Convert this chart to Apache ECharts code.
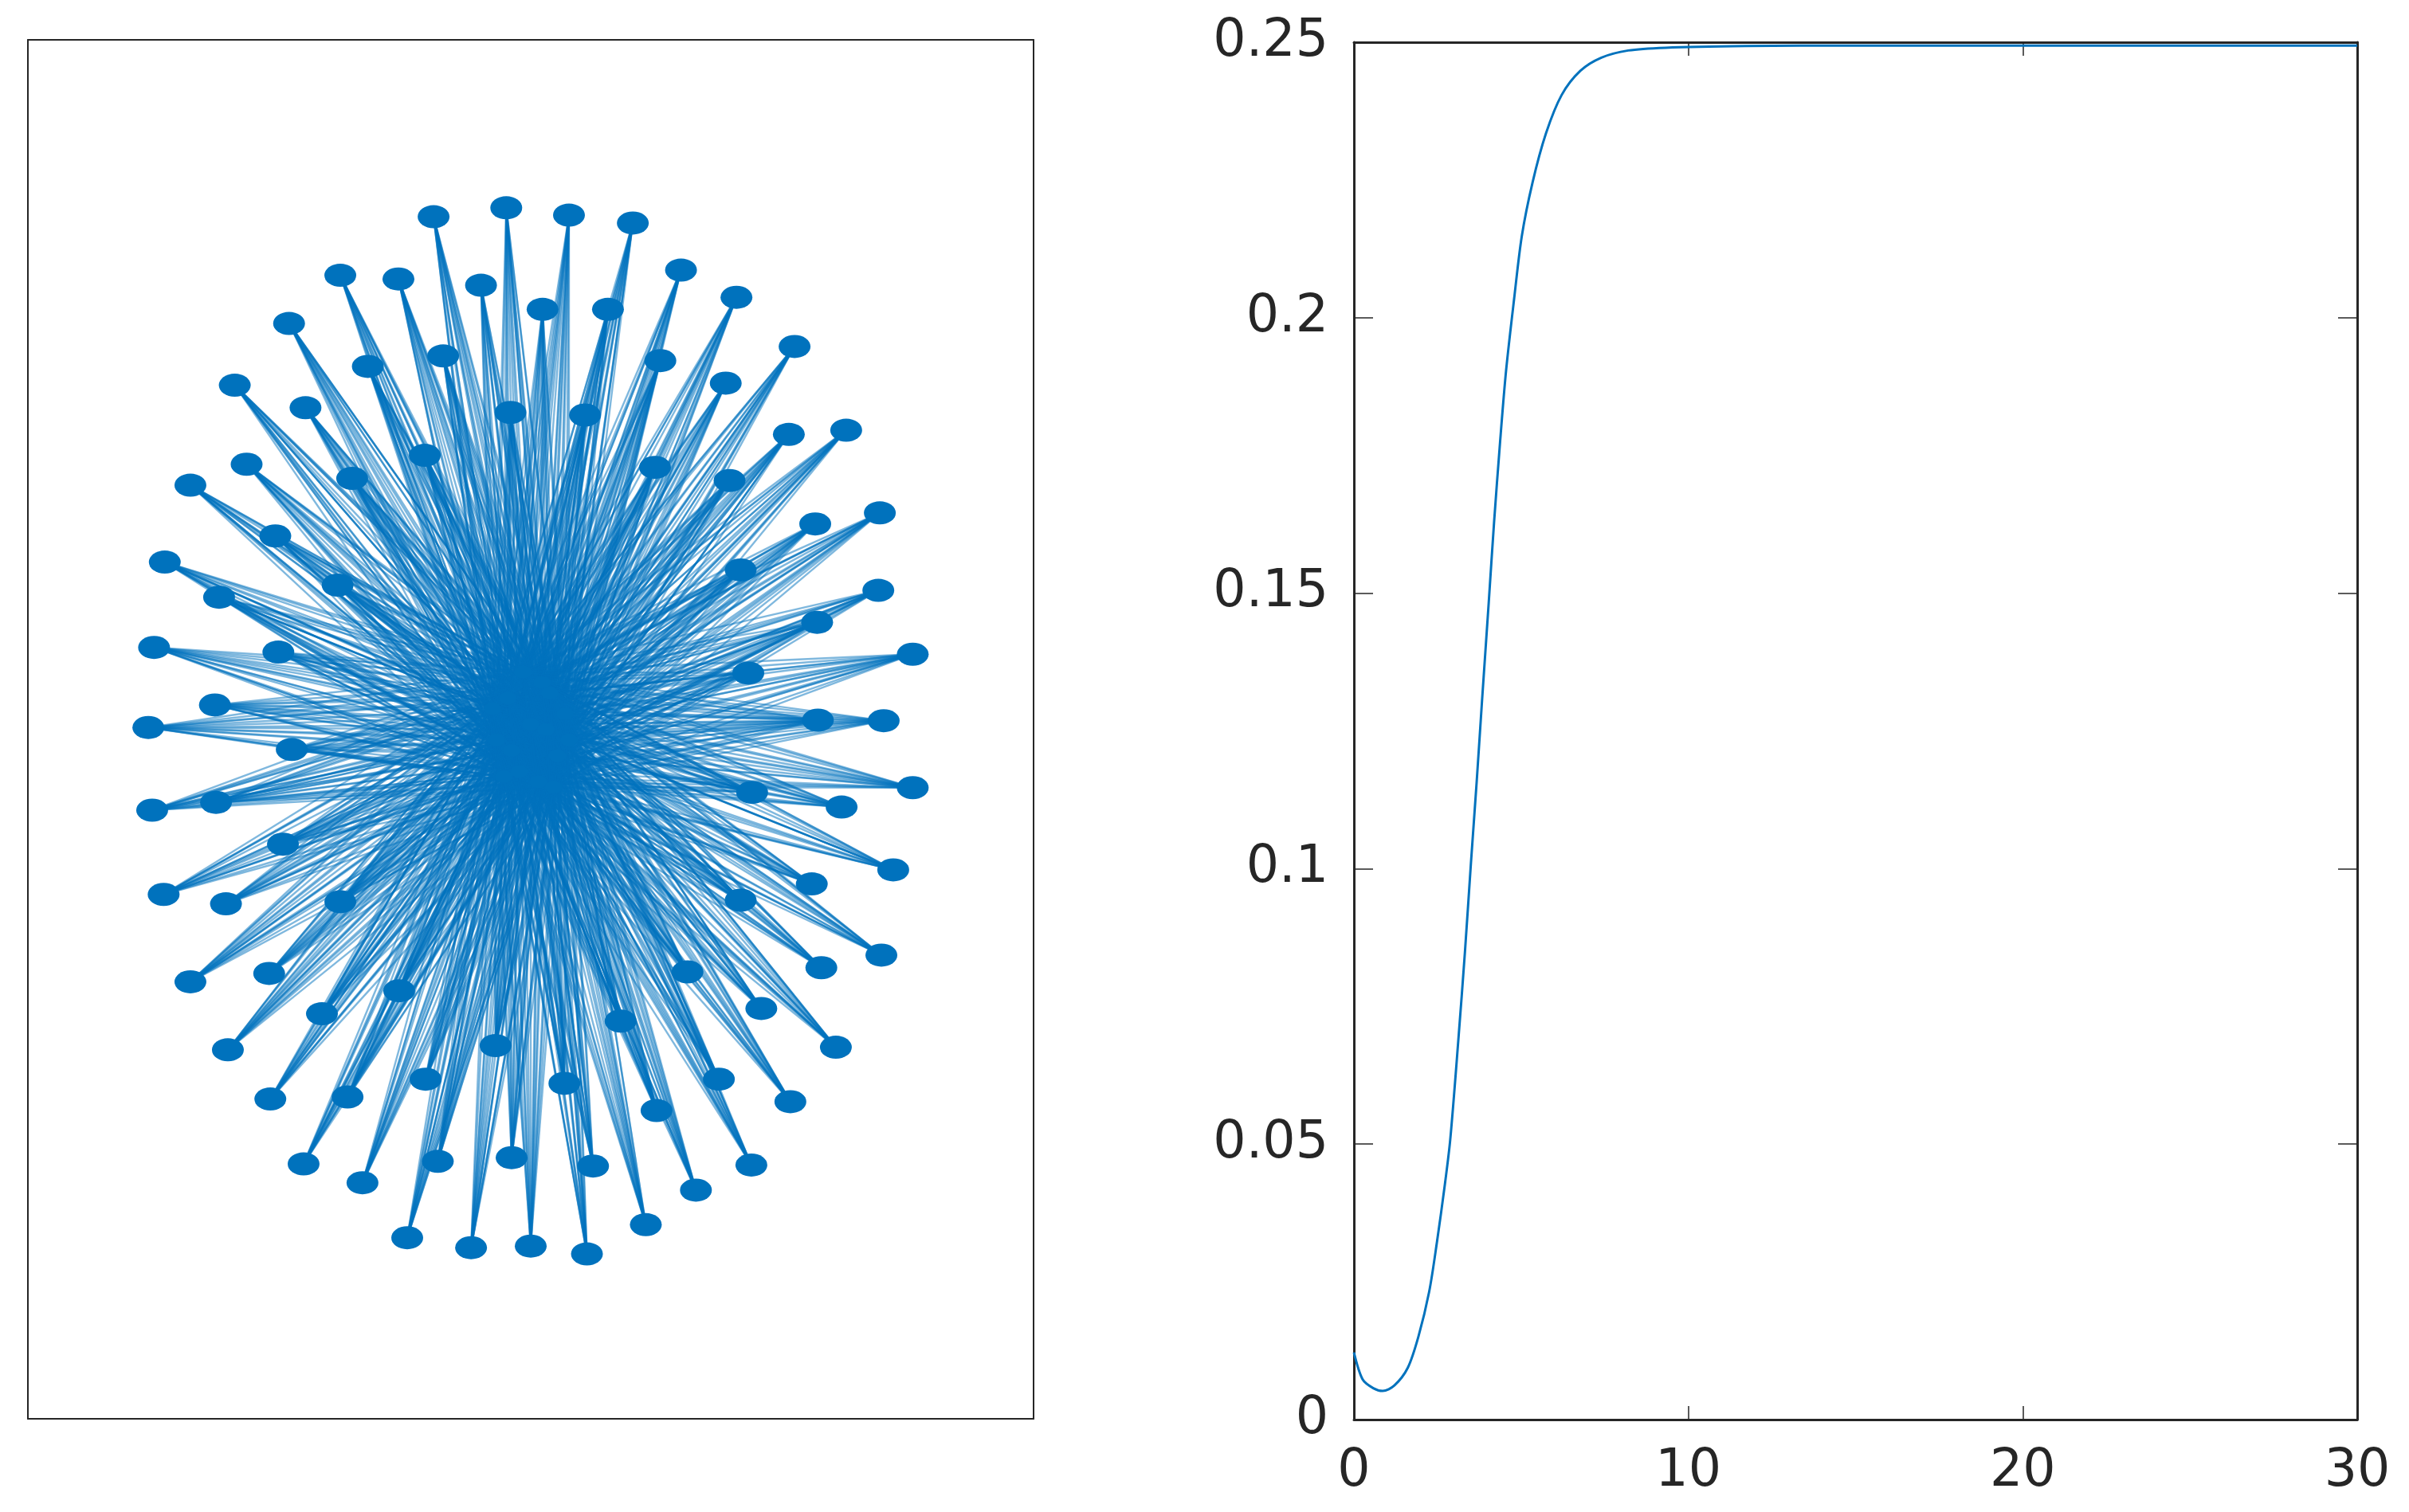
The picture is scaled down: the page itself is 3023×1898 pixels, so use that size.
<!DOCTYPE html>
<html>
<head>
<meta charset="utf-8">
<script src="https://cdn.jsdelivr.net/npm/echarts@6/dist/echarts.min.js"></script>
<style>
html,body{margin:0;padding:0;background:#fff;}
#chart{width:3023px;height:1898px;}
</style>
</head>
<body>
<div id="chart"></div>
<script>
// ---- Left panel: graph layout coordinates ----
var nodeX = [
 -0.254, -0.064, -0.498, -0.346, -0.130, 0.031, -0.632, -0.426, -0.229, -0.774,
 -0.589, -0.053, -0.277, -0.743, -0.890, -0.467, -0.668, -0.957, -0.505, -0.815,
 -0.985, -0.660, -0.826, -1.000,
 -0.625, -0.990, -0.823, -0.648, -0.960, -0.797, -0.498, -0.890, -0.684, -0.546,
 -0.344, -0.792, -0.092, -0.681, -0.479, -0.275, -0.594, -0.440, -0.243, -0.050,
 -0.323, -0.156, 0.000,
 0.100, 0.267, 0.393, 0.538, 0.202, 0.690, 0.339, 0.510, 0.142, 0.825,
 0.675, 0.325, 0.520, 0.913, 0.744, 0.549, 0.909, 0.749, 0.999, 0.569,
 0.751, 0.923,
 0.999, 0.579, 0.813, 0.948, 0.735, 0.549, 0.917, 0.760, 0.410, 0.603,
 0.798, 0.235, 0.492, 0.679, 0.088, 0.329, 0.577, 0.163, 0.432, 0.301, 0.147
];
var nodeY = [
 0.980, 0.997, 0.868, 0.861, 0.849, 0.803, 0.776, 0.694, 0.714, 0.658,
 0.615, 0.606, 0.524, 0.507, 0.467, 0.480, 0.370, 0.320, 0.276, 0.253,
 0.157, 0.148, 0.047, 0.004,
 -0.038, -0.154, -0.139, -0.219, -0.315, -0.333, -0.329, -0.482, -0.466, -0.543,
 -0.499, -0.612, -0.604, -0.706, -0.702, -0.668, -0.830, -0.866, -0.825, -0.818,
 -0.971, -0.990, -0.987,
 0.983, 0.968, 0.878, 0.826, 0.803, 0.732, 0.705, 0.662, 0.601, 0.572,
 0.564, 0.501, 0.476, 0.414, 0.393, 0.305, 0.266, 0.205, 0.144, 0.108,
 0.018, 0.017,
 -0.111, -0.120, -0.148, -0.268, -0.295, -0.326, -0.431, -0.455, -0.463, -0.533,
 -0.607, -0.557, -0.668, -0.711, -0.676, -0.728, -0.832, -0.834, -0.880, -0.946, -1.002
];
// core (hub) nodes hidden in the solid centre (estimated)
var hubX = [0.00, 0.07, -0.06, 0.03, -0.03, 0.09, -0.09, 0.02, 0.05, -0.05, 0.10, -0.10, 0.06, -0.02, 0.04, -0.07];
var hubY = [0.01, -0.05, 0.06, 0.09, -0.08, 0.03, -0.02, -0.10, 0.07, -0.04, -0.02, 0.04, -0.11, 0.11, 0.00, -0.09];

// ---- Right panel: curve ----
var tValues = [0, 0.26, 0.58, 0.86, 1.21, 1.61, 1.93, 2.25, 2.48, 2.72, 2.88, 3.12, 3.32, 3.50, 3.67, 3.83, 4.03, 4.19, 4.37, 4.55, 4.79, 5.02, 5.34, 5.74, 6.21, 6.77, 7.40, 8.20, 9.31, 11.7, 15, 20, 25, 30];
var yValues = [0.0122, 0.0073, 0.0057, 0.0052, 0.0062, 0.0094, 0.0151, 0.0232, 0.0321, 0.0427, 0.0508, 0.0687, 0.0849, 0.1011, 0.1157, 0.1304, 0.1482, 0.1628, 0.1774, 0.1904, 0.2034, 0.2148, 0.2245, 0.2334, 0.2404, 0.2448, 0.2472, 0.2485, 0.2490, 0.2493, 0.2494, 0.2494, 0.2494, 0.2494];

var BLUE = '#0072BD';
var AX = '#262626';
var FONT = 'DejaVu Sans';

var nodes = [];
for (var i = 0; i < nodeX.length; i++) nodes.push({value: [nodeX[i], nodeY[i]]});
for (var j = 0; j < hubX.length; j++) nodes.push({value: [hubX[j], hubY[j]], symbolSize: [22, 16]});
var links = [];
for (var i2 = 0; i2 < nodeX.length; i2++) {
  for (var h = 0; h < hubX.length; h++) links.push({source: i2, target: nodeX.length + h});
}
var curve = tValues.map(function (t, k) { return [t, yValues[k]]; });

function boxAxis(pos, gridIndex, min, max, lw) {
  return {
    type: 'value', gridIndex: gridIndex, position: pos, min: min, max: max,
    axisLine: {show: true, onZero: false, lineStyle: {color: AX, width: lw}},
    axisTick: {show: false}, axisLabel: {show: false}, splitLine: {show: false}
  };
}

var chart = echarts.init(document.getElementById('chart'), null, {renderer: 'canvas'});
chart.setOption({
  animation: false,
  backgroundColor: '#ffffff',
  grid: [
    {left: 35, top: 50, width: 1262, height: 1731},
    {left: 1699, top: 53, width: 1259, height: 1729}
  ],
  xAxis: [
    boxAxis('bottom', 0, -1.315, 1.315, 2),
    boxAxis('top', 0, -1.315, 1.315, 2),
    {
      type: 'value', gridIndex: 1, position: 'bottom', min: 0, max: 30, interval: 10,
      axisLine: {show: true, onZero: false, lineStyle: {color: AX, width: 3}},
      axisTick: {show: true, inside: true, length: 17, lineStyle: {color: AX, width: 1.5}},
      axisLabel: {show: true, margin: 34, color: AX, fontFamily: FONT, fontSize: 65},
      splitLine: {show: false}
    },
    {
      type: 'value', gridIndex: 1, position: 'top', min: 0, max: 30, interval: 10,
      axisLine: {show: true, onZero: false, lineStyle: {color: AX, width: 3}},
      axisTick: {show: true, inside: true, length: 17, lineStyle: {color: AX, width: 1.5}},
      axisLabel: {show: false}, splitLine: {show: false}
    }
  ],
  yAxis: [
    boxAxis('left', 0, -1.317, 1.318, 2),
    boxAxis('right', 0, -1.317, 1.318, 2),
    {
      type: 'value', gridIndex: 1, position: 'left', min: 0, max: 0.25, interval: 0.05,
      axisLine: {show: true, onZero: false, lineStyle: {color: AX, width: 3}},
      axisTick: {show: true, inside: true, length: 24, lineStyle: {color: AX, width: 1.5}},
      axisLabel: {show: true, margin: 32, color: AX, fontFamily: FONT, fontSize: 65},
      splitLine: {show: false}
    },
    {
      type: 'value', gridIndex: 1, position: 'right', min: 0, max: 0.25, interval: 0.05,
      axisLine: {show: true, onZero: false, lineStyle: {color: AX, width: 3}},
      axisTick: {show: true, inside: true, length: 24, lineStyle: {color: AX, width: 1.5}},
      axisLabel: {show: false}, splitLine: {show: false}
    }
  ],
  series: [
    {
      type: 'graph', coordinateSystem: 'cartesian2d', xAxisIndex: 0, yAxisIndex: 0,
      layout: 'none', silent: true,
      symbol: 'circle', symbolSize: [40, 29],
      itemStyle: {color: BLUE, opacity: 1},
      lineStyle: {color: BLUE, width: 2.4, opacity: 0.5, curveness: 0},
      label: {show: false},
      data: nodes, links: links
    },
    {
      type: 'line', xAxisIndex: 2, yAxisIndex: 2, data: curve,
      showSymbol: false, smooth: 0.3, silent: true,
      lineStyle: {color: BLUE, width: 3}
    }
  ]
});
</script>
</body>
</html>
